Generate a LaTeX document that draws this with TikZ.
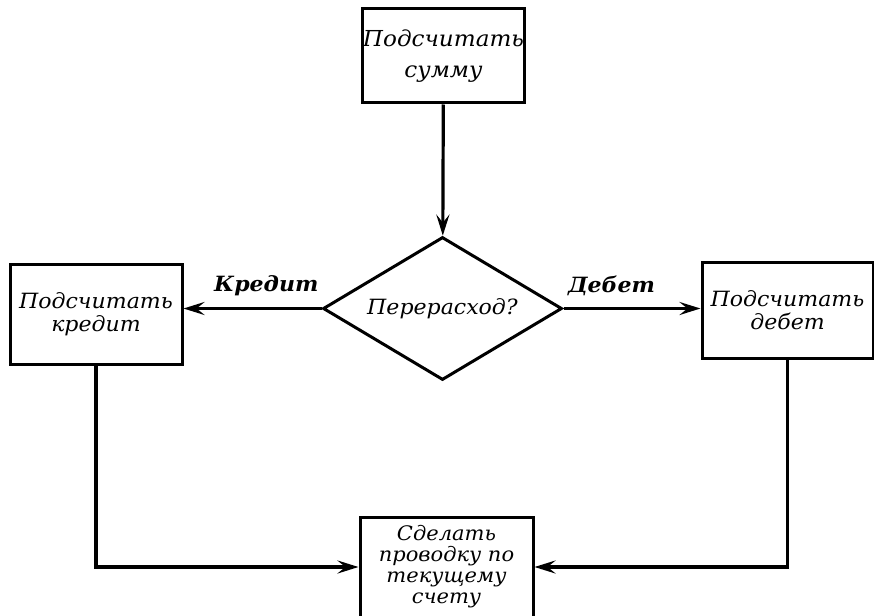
\documentclass[tikz,border=0pt]{standalone}
\usepackage{fontspec}
\usetikzlibrary{arrows.meta,shapes.geometric}
% handwritten-looking italic for all labels
\newfontfamily\hand[FakeStretch=1.05]{DejaVu Serif Italic}
\newfontfamily\handbold[FakeStretch=1.05]{DejaVu Serif Bold Italic}

\begin{document}
\begin{tikzpicture}[x=1pt,y=-1pt,
  line width=3.2pt,
  box/.style={draw, rectangle, line width=3pt, inner sep=0pt, align=center,
              font=\hand\fontsize{21}{23}\selectfont},
  decision/.style={draw, diamond, aspect=1.67, line width=3pt, inner sep=0pt,
              minimum width=239pt, minimum height=143pt,
              font=\hand\fontsize{21}{23}\selectfont},
  arr/.style={-{Stealth[length=21pt,width=13pt,inset=8pt]}, line width=3.2pt},
  branch/.style={font=\handbold\fontsize{21}{23}\selectfont, inner sep=0pt}
]
\useasboundingbox (0,0) rectangle (874,615);
\clip (0,0) rectangle (874,615);

% process steps
\node[box, minimum width=145pt, minimum height=94pt,
      font=\hand\fontsize{22}{31}\selectfont] (sum) at (443.5,56) {Подсчитать\\сумму};
\node[decision] (q) at (442.5,308.5) {Перерасход?};
\node[box, minimum width=172pt, minimum height=100pt] (cred) at (96,314) {Подсчитать\\кредит};
\node[box, minimum width=171pt, minimum height=96pt] (deb) at (787.5,310) {Подсчитать\\дебет};
\node[box, minimum width=173pt, minimum height=100pt,
      font=\hand\fontsize{20}{21}\selectfont] (post) at (446.5,567) {Сделать\\проводку по\\текущему\\счету};

% flow
\draw[arr] (sum) -- (q);
\draw[arr] (q.west) -- (q.west -| cred.east)
  node[branch, pos=0.4, above=11pt] (lcred) {Кредит};
\draw[arr] (q.east) -- (q.east -| deb.west)
  node[branch, pos=0.35, above=11pt] (ldeb) {Дебет};
\draw[arr] (cred.south) |- (post.west);
\draw[arr] (deb.south) |- (post.east);
\end{tikzpicture}
\end{document}
